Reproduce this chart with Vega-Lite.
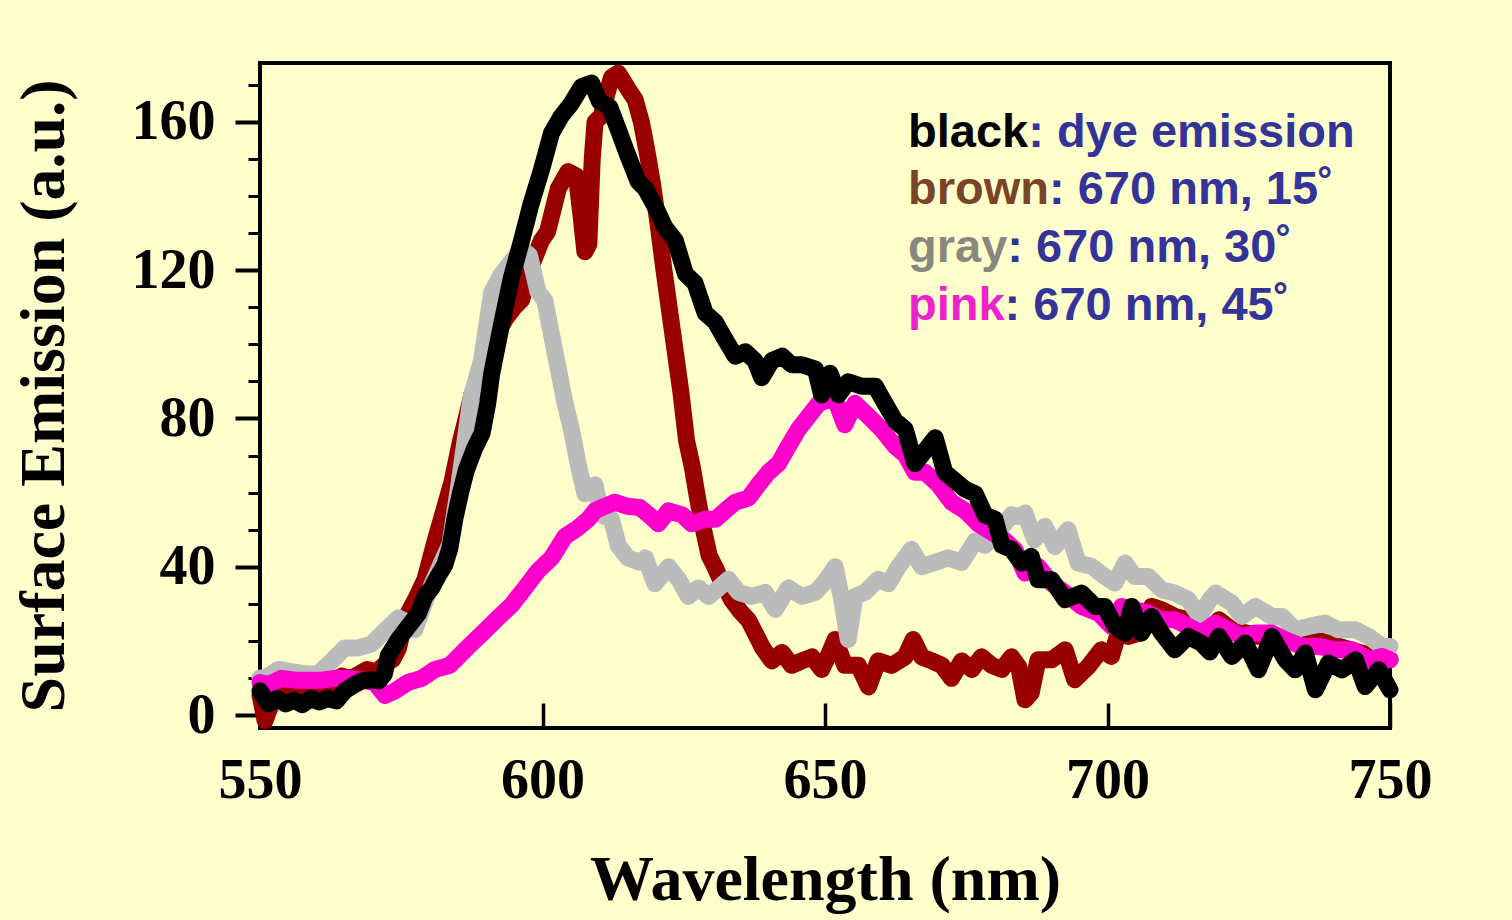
{
  "$schema": "https://vega.github.io/schema/vega-lite/v6.json",
  "width": 1130,
  "height": 665,
  "autosize": {"type": "none"},
  "padding": {"left": 260, "top": 63, "right": 122, "bottom": 192},
  "background": "#FFFFCC",
  "config": {
    "view": {"stroke": "#000000", "strokeWidth": 4},
    "axis": {
      "domain": false,
      "grid": false,
      "tickColor": "#000000",
      "labelColor": "#000000",
      "titleColor": "#000000",
      "labelFont": "Liberation Serif",
      "labelFontWeight": "bold",
      "labelFontSize": 56,
      "labelFlush": false,
      "titleFont": "Liberation Serif",
      "titleFontWeight": "bold",
      "titleFontSize": 64
    }
  },
  "datasets": {
    "curves": [
      {"s":"black","x":550,"y":6.5},{"s":"black","x":551.5,"y":3},{"s":"black","x":553,"y":4.5},{"s":"black","x":554.5,"y":3},{"s":"black","x":556,"y":4},{"s":"black","x":557.5,"y":2.8},{"s":"black","x":559,"y":4.5},{"s":"black","x":560.5,"y":3.5},{"s":"black","x":562,"y":4.5},{"s":"black","x":563.5,"y":3.8},{"s":"black","x":565,"y":6.5},{"s":"black","x":566.5,"y":8},{"s":"black","x":568,"y":9.2},{"s":"black","x":569.5,"y":9.5},{"s":"black","x":571,"y":9.2},{"s":"black","x":572,"y":11},{"s":"black","x":572.7,"y":16},{"s":"black","x":574.5,"y":20.4},{"s":"black","x":576.2,"y":23.8},{"s":"black","x":578,"y":27.3},{"s":"black","x":579.2,"y":32},{"s":"black","x":580.4,"y":34.3},{"s":"black","x":581.6,"y":37.7},{"s":"black","x":582.7,"y":40.5},{"s":"black","x":583.6,"y":45},{"s":"black","x":584.5,"y":53},{"s":"black","x":585.5,"y":60},{"s":"black","x":586.5,"y":66},{"s":"black","x":588,"y":72},{"s":"black","x":589.3,"y":76},{"s":"black","x":590.3,"y":84},{"s":"black","x":591,"y":92},{"s":"black","x":592.7,"y":105},{"s":"black","x":594.5,"y":118},{"s":"black","x":596.3,"y":128},{"s":"black","x":598,"y":138},{"s":"black","x":599.8,"y":147},{"s":"black","x":601.6,"y":157},{"s":"black","x":603.3,"y":161.5},{"s":"black","x":605.1,"y":165},{"s":"black","x":606.9,"y":169.5},{"s":"black","x":608.7,"y":170.5},{"s":"black","x":610.1,"y":165.5},{"s":"black","x":611.9,"y":164},{"s":"black","x":613.4,"y":158},{"s":"black","x":615.1,"y":151},{"s":"black","x":616.9,"y":144},{"s":"black","x":618.2,"y":142},{"s":"black","x":619.9,"y":137.3},{"s":"black","x":621.7,"y":131.5},{"s":"black","x":623.5,"y":128},{"s":"black","x":625.3,"y":119},{"s":"black","x":627,"y":116.5},{"s":"black","x":628.8,"y":108.4},{"s":"black","x":630.6,"y":106},{"s":"black","x":632.3,"y":101.4},{"s":"black","x":634.1,"y":96.8},{"s":"black","x":635.9,"y":98},{"s":"black","x":637.6,"y":95.6},{"s":"black","x":638.8,"y":91},{"s":"black","x":640.6,"y":95.6},{"s":"black","x":642.4,"y":96.8},{"s":"black","x":644.1,"y":94.5},{"s":"black","x":645.9,"y":94.5},{"s":"black","x":648.3,"y":93.3},{"s":"black","x":649.4,"y":86.4},{"s":"black","x":650.9,"y":92.2},{"s":"black","x":652.4,"y":86.4},{"s":"black","x":654.1,"y":89.9},{"s":"black","x":656.5,"y":88.7},{"s":"black","x":658.9,"y":88.7},{"s":"black","x":660.6,"y":84.1},{"s":"black","x":662.4,"y":79.4},{"s":"black","x":664.2,"y":77.1},{"s":"black","x":665.9,"y":67.8},{"s":"black","x":667.7,"y":71.3},{"s":"black","x":669.5,"y":74.8},{"s":"black","x":671.2,"y":65.5},{"s":"black","x":673,"y":63.2},{"s":"black","x":674.8,"y":60.9},{"s":"black","x":676.6,"y":59.7},{"s":"black","x":678.3,"y":54},{"s":"black","x":680.1,"y":52.8},{"s":"black","x":681.3,"y":45.8},{"s":"black","x":683,"y":44.7},{"s":"black","x":684.8,"y":41},{"s":"black","x":686.5,"y":42.8},{"s":"black","x":687.7,"y":36.5},{"s":"black","x":690.1,"y":36.5},{"s":"black","x":692.5,"y":31.1},{"s":"black","x":695.4,"y":32.9},{"s":"black","x":697.8,"y":29.3},{"s":"black","x":699.5,"y":29.3},{"s":"black","x":701.3,"y":23.9},{"s":"black","x":703.1,"y":22.1},{"s":"black","x":704.3,"y":29.3},{"s":"black","x":706,"y":22.1},{"s":"black","x":707.8,"y":26.6},{"s":"black","x":709.6,"y":22.1},{"s":"black","x":711.9,"y":17.6},{"s":"black","x":714.3,"y":21.2},{"s":"black","x":716.6,"y":19.4},{"s":"black","x":718.1,"y":17},{"s":"black","x":719.7,"y":21.2},{"s":"black","x":722,"y":15.8},{"s":"black","x":724.4,"y":19.4},{"s":"black","x":726.7,"y":12.2},{"s":"black","x":729.1,"y":21.2},{"s":"black","x":731.5,"y":14.9},{"s":"black","x":733.2,"y":12.2},{"s":"black","x":735,"y":16.7},{"s":"black","x":736.8,"y":6.8},{"s":"black","x":739.1,"y":14},{"s":"black","x":741.5,"y":12.2},{"s":"black","x":743.9,"y":14.9},{"s":"black","x":745.6,"y":7.7},{"s":"black","x":748,"y":12.2},{"s":"black","x":750,"y":6.8},

      {"s":"brown","x":550,"y":5.5},{"s":"brown","x":550.9,"y":-1.5},{"s":"brown","x":552,"y":3},{"s":"brown","x":552.6,"y":6},{"s":"brown","x":554,"y":4.5},{"s":"brown","x":555.5,"y":7},{"s":"brown","x":557,"y":5},{"s":"brown","x":558.5,"y":6.5},{"s":"brown","x":560,"y":6},{"s":"brown","x":561.5,"y":8},{"s":"brown","x":563,"y":9},{"s":"brown","x":564.5,"y":10.5},{"s":"brown","x":566,"y":9.8},{"s":"brown","x":567.5,"y":11},{"s":"brown","x":569,"y":12.3},{"s":"brown","x":570.5,"y":11.5},{"s":"brown","x":572,"y":13.5},{"s":"brown","x":573.5,"y":15},{"s":"brown","x":574.5,"y":18},{"s":"brown","x":575.7,"y":26},{"s":"brown","x":577.4,"y":30.8},{"s":"brown","x":579.2,"y":36.6},{"s":"brown","x":581,"y":47},{"s":"brown","x":582.7,"y":56},{"s":"brown","x":584,"y":63},{"s":"brown","x":585.5,"y":74},{"s":"brown","x":586.5,"y":80},{"s":"brown","x":587.5,"y":86.4},{"s":"brown","x":589,"y":92},{"s":"brown","x":590.5,"y":98},{"s":"brown","x":592,"y":103},{"s":"brown","x":593.5,"y":107},{"s":"brown","x":595,"y":110},{"s":"brown","x":596.3,"y":112},{"s":"brown","x":598,"y":121},{"s":"brown","x":599.8,"y":128},{"s":"brown","x":600.9,"y":130.4},{"s":"brown","x":602.8,"y":142},{"s":"brown","x":604.5,"y":146.6},{"s":"brown","x":606,"y":145.4},{"s":"brown","x":606.8,"y":135},{"s":"brown","x":607.5,"y":125},{"s":"brown","x":608.2,"y":127},{"s":"brown","x":608.8,"y":150},{"s":"brown","x":609.3,"y":160},{"s":"brown","x":610.4,"y":161.6},{"s":"brown","x":611.3,"y":167},{"s":"brown","x":612.2,"y":172},{"s":"brown","x":613.4,"y":173.2},{"s":"brown","x":615.1,"y":169},{"s":"brown","x":616.4,"y":166},{"s":"brown","x":617.5,"y":160},{"s":"brown","x":618.5,"y":152},{"s":"brown","x":619.5,"y":143},{"s":"brown","x":620.5,"y":132},{"s":"brown","x":621.5,"y":120},{"s":"brown","x":622.5,"y":109},{"s":"brown","x":623.5,"y":98},{"s":"brown","x":624.5,"y":87},{"s":"brown","x":625.5,"y":74},{"s":"brown","x":626.5,"y":67},{"s":"brown","x":627.5,"y":58},{"s":"brown","x":628.5,"y":50},{"s":"brown","x":629.5,"y":43},{"s":"brown","x":630.5,"y":40},{"s":"brown","x":631.5,"y":36.5},{"s":"brown","x":632.5,"y":34},{"s":"brown","x":633.5,"y":31},{"s":"brown","x":635,"y":28},{"s":"brown","x":636.5,"y":25.5},{"s":"brown","x":638,"y":21},{"s":"brown","x":639,"y":18},{"s":"brown","x":640.6,"y":14.6},{"s":"brown","x":642.4,"y":16.9},{"s":"brown","x":644.1,"y":13.4},{"s":"brown","x":645.9,"y":14.6},{"s":"brown","x":647.7,"y":15.7},{"s":"brown","x":649.4,"y":12.3},{"s":"brown","x":650.5,"y":15.7},{"s":"brown","x":651.8,"y":20.4},{"s":"brown","x":653.5,"y":13.4},{"s":"brown","x":655.9,"y":13.4},{"s":"brown","x":657.7,"y":7.6},{"s":"brown","x":659.4,"y":14.6},{"s":"brown","x":661.8,"y":13.4},{"s":"brown","x":664.2,"y":15.7},{"s":"brown","x":665.6,"y":20.4},{"s":"brown","x":667.1,"y":15.7},{"s":"brown","x":668.9,"y":14.6},{"s":"brown","x":670.7,"y":13.4},{"s":"brown","x":672.4,"y":9.9},{"s":"brown","x":674.2,"y":14.6},{"s":"brown","x":676,"y":12.3},{"s":"brown","x":677.7,"y":15.7},{"s":"brown","x":679.5,"y":13.4},{"s":"brown","x":681.3,"y":12.3},{"s":"brown","x":683,"y":15.7},{"s":"brown","x":684.3,"y":13},{"s":"brown","x":685.4,"y":4.1},{"s":"brown","x":686.5,"y":6},{"s":"brown","x":687.7,"y":14.9},{"s":"brown","x":690.1,"y":14.9},{"s":"brown","x":692.5,"y":17.6},{"s":"brown","x":694.2,"y":9.5},{"s":"brown","x":696.6,"y":13.1},{"s":"brown","x":698.9,"y":17.6},{"s":"brown","x":700.7,"y":15.8},{"s":"brown","x":701.9,"y":22.1},{"s":"brown","x":703.7,"y":21.2},{"s":"brown","x":705.4,"y":22.1},{"s":"brown","x":707.8,"y":29.3},{"s":"brown","x":709.6,"y":28.4},{"s":"brown","x":711.9,"y":26.6},{"s":"brown","x":714.3,"y":25.7},{"s":"brown","x":716.6,"y":23},{"s":"brown","x":718.1,"y":22.1},{"s":"brown","x":719.7,"y":25.7},{"s":"brown","x":722,"y":23},{"s":"brown","x":725,"y":22},{"s":"brown","x":729,"y":20.3},{"s":"brown","x":733,"y":20.5},{"s":"brown","x":737,"y":20.3},{"s":"brown","x":741,"y":18.5},{"s":"brown","x":745,"y":16.7},{"s":"brown","x":750,"y":15},

      {"s":"gray","x":550,"y":10},{"s":"gray","x":551,"y":10},{"s":"gray","x":553.2,"y":12.3},{"s":"gray","x":555.6,"y":11.7},{"s":"gray","x":558,"y":11.1},{"s":"gray","x":560.3,"y":11.1},{"s":"gray","x":562.7,"y":14.6},{"s":"gray","x":565,"y":18.1},{"s":"gray","x":567.4,"y":18.1},{"s":"gray","x":569.8,"y":19.2},{"s":"gray","x":572.1,"y":22.7},{"s":"gray","x":574.5,"y":26.2},{"s":"gray","x":576,"y":25},{"s":"gray","x":577.4,"y":23},{"s":"gray","x":579.8,"y":33},{"s":"gray","x":582.1,"y":41},{"s":"gray","x":583.6,"y":46},{"s":"gray","x":585.1,"y":61},{"s":"gray","x":587.4,"y":86},{"s":"gray","x":589.2,"y":95.6},{"s":"gray","x":591,"y":114},{"s":"gray","x":592.7,"y":118.8},{"s":"gray","x":594.5,"y":122.3},{"s":"gray","x":596.3,"y":125.7},{"s":"gray","x":597.7,"y":124},{"s":"gray","x":599.2,"y":114.2},{"s":"gray","x":600.4,"y":111.9},{"s":"gray","x":601.6,"y":102.6},{"s":"gray","x":602.8,"y":93.3},{"s":"gray","x":604,"y":84.1},{"s":"gray","x":605.1,"y":77.1},{"s":"gray","x":606.3,"y":67.8},{"s":"gray","x":607.5,"y":59.7},{"s":"gray","x":609.3,"y":62.1},{"s":"gray","x":610.4,"y":54},{"s":"gray","x":612.2,"y":52.8},{"s":"gray","x":613.4,"y":45.8},{"s":"gray","x":615.1,"y":42.4},{"s":"gray","x":617.2,"y":41.2},{"s":"gray","x":618.2,"y":42.4},{"s":"gray","x":619.9,"y":35.4},{"s":"gray","x":622.3,"y":40},{"s":"gray","x":624.1,"y":36.6},{"s":"gray","x":625.8,"y":32},{"s":"gray","x":627.6,"y":34.3},{"s":"gray","x":629.4,"y":32},{"s":"gray","x":631.2,"y":34.3},{"s":"gray","x":632.9,"y":36.6},{"s":"gray","x":634.7,"y":33.1},{"s":"gray","x":637,"y":32},{"s":"gray","x":639.4,"y":33.1},{"s":"gray","x":641.2,"y":28.5},{"s":"gray","x":643.5,"y":34.3},{"s":"gray","x":645.9,"y":32},{"s":"gray","x":648.3,"y":33.1},{"s":"gray","x":650,"y":36},{"s":"gray","x":651.8,"y":40},{"s":"gray","x":653,"y":30.8},{"s":"gray","x":654.1,"y":20.4},{"s":"gray","x":655.3,"y":32},{"s":"gray","x":657.1,"y":33.1},{"s":"gray","x":659.4,"y":36.6},{"s":"gray","x":661.2,"y":35.4},{"s":"gray","x":663,"y":40},{"s":"gray","x":665.3,"y":44.7},{"s":"gray","x":667.1,"y":40},{"s":"gray","x":669.5,"y":41.2},{"s":"gray","x":671.8,"y":42.4},{"s":"gray","x":674.2,"y":41.2},{"s":"gray","x":676.6,"y":47},{"s":"gray","x":678.3,"y":45.8},{"s":"gray","x":680.7,"y":49.3},{"s":"gray","x":683,"y":54},{"s":"gray","x":684.5,"y":53.5},{"s":"gray","x":685.4,"y":54.5},{"s":"gray","x":687.1,"y":47.3},{"s":"gray","x":688.9,"y":50.9},{"s":"gray","x":690.7,"y":45.5},{"s":"gray","x":693,"y":50},{"s":"gray","x":694.8,"y":41},{"s":"gray","x":697.2,"y":40.1},{"s":"gray","x":699.5,"y":37.4},{"s":"gray","x":701.3,"y":35.6},{"s":"gray","x":703.1,"y":41},{"s":"gray","x":704.8,"y":37.4},{"s":"gray","x":707.2,"y":37.4},{"s":"gray","x":709.6,"y":33.8},{"s":"gray","x":711.9,"y":32.9},{"s":"gray","x":714.3,"y":31.1},{"s":"gray","x":716.3,"y":26.6},{"s":"gray","x":718.1,"y":31.1},{"s":"gray","x":719.1,"y":32.9},{"s":"gray","x":722,"y":30.2},{"s":"gray","x":723.8,"y":26.6},{"s":"gray","x":726.2,"y":29.3},{"s":"gray","x":729.1,"y":26.6},{"s":"gray","x":730.9,"y":26.6},{"s":"gray","x":733.2,"y":23},{"s":"gray","x":735.6,"y":23.9},{"s":"gray","x":738.5,"y":24.8},{"s":"gray","x":740.9,"y":23},{"s":"gray","x":743.9,"y":23},{"s":"gray","x":746.2,"y":21.2},{"s":"gray","x":748.6,"y":18.5},{"s":"gray","x":750,"y":18.5},

      {"s":"pink","x":550,"y":8.8},{"s":"pink","x":551.5,"y":8.2},{"s":"pink","x":553.8,"y":9.9},{"s":"pink","x":556.2,"y":9.4},{"s":"pink","x":558.5,"y":9.4},{"s":"pink","x":560.9,"y":9.4},{"s":"pink","x":563.3,"y":9.9},{"s":"pink","x":565.6,"y":9.9},{"s":"pink","x":568,"y":9.4},{"s":"pink","x":570.3,"y":8.8},{"s":"pink","x":572.1,"y":5.3},{"s":"pink","x":573.9,"y":6.5},{"s":"pink","x":576.2,"y":8.8},{"s":"pink","x":578.6,"y":9.9},{"s":"pink","x":581,"y":12.3},{"s":"pink","x":583.6,"y":13.4},{"s":"pink","x":585.1,"y":15.7},{"s":"pink","x":587.4,"y":19.2},{"s":"pink","x":589.8,"y":22.7},{"s":"pink","x":592.1,"y":26.2},{"s":"pink","x":594.5,"y":29.6},{"s":"pink","x":596.9,"y":34.3},{"s":"pink","x":599.2,"y":38.9},{"s":"pink","x":601.6,"y":42.4},{"s":"pink","x":604,"y":48.2},{"s":"pink","x":606.3,"y":50.5},{"s":"pink","x":608.1,"y":52.8},{"s":"pink","x":609.3,"y":55.1},{"s":"pink","x":611,"y":56.3},{"s":"pink","x":612.8,"y":57.4},{"s":"pink","x":615.1,"y":56.3},{"s":"pink","x":617.2,"y":56},{"s":"pink","x":618.8,"y":54},{"s":"pink","x":620.5,"y":51.6},{"s":"pink","x":622.3,"y":55.1},{"s":"pink","x":624.7,"y":54},{"s":"pink","x":626.4,"y":51.6},{"s":"pink","x":628.8,"y":52.8},{"s":"pink","x":630.6,"y":52.8},{"s":"pink","x":632.3,"y":55.1},{"s":"pink","x":634.1,"y":57.4},{"s":"pink","x":636.5,"y":58.6},{"s":"pink","x":638.2,"y":62.1},{"s":"pink","x":640,"y":65.5},{"s":"pink","x":641.8,"y":67.9},{"s":"pink","x":643.5,"y":72.5},{"s":"pink","x":645.3,"y":77.1},{"s":"pink","x":647.1,"y":80.6},{"s":"pink","x":648.9,"y":84.1},{"s":"pink","x":650.9,"y":85.2},{"s":"pink","x":651.8,"y":85.2},{"s":"pink","x":653.5,"y":78.3},{"s":"pink","x":655.3,"y":84.1},{"s":"pink","x":657.7,"y":80.6},{"s":"pink","x":660,"y":77.1},{"s":"pink","x":662.4,"y":72.5},{"s":"pink","x":664.2,"y":70.2},{"s":"pink","x":665.9,"y":65.5},{"s":"pink","x":667.7,"y":65.5},{"s":"pink","x":670.1,"y":62.1},{"s":"pink","x":672.4,"y":57.4},{"s":"pink","x":674.8,"y":55.1},{"s":"pink","x":677.1,"y":51.6},{"s":"pink","x":679.5,"y":49.3},{"s":"pink","x":681.9,"y":47},{"s":"pink","x":683.6,"y":44.6},{"s":"pink","x":685.4,"y":38.3},{"s":"pink","x":687.7,"y":40.1},{"s":"pink","x":690.1,"y":35.6},{"s":"pink","x":692.5,"y":32.9},{"s":"pink","x":695.4,"y":29.3},{"s":"pink","x":698.4,"y":27.5},{"s":"pink","x":700.7,"y":23.9},{"s":"pink","x":702.5,"y":29.3},{"s":"pink","x":704.8,"y":28.4},{"s":"pink","x":707.2,"y":27.5},{"s":"pink","x":709.6,"y":25.7},{"s":"pink","x":711.9,"y":25.7},{"s":"pink","x":714.3,"y":23.9},{"s":"pink","x":716.6,"y":22.1},{"s":"pink","x":719.1,"y":24.8},{"s":"pink","x":721.4,"y":23},{"s":"pink","x":723.8,"y":21.2},{"s":"pink","x":726.2,"y":22.1},{"s":"pink","x":729.1,"y":22.1},{"s":"pink","x":731.5,"y":20.3},{"s":"pink","x":734.4,"y":18.5},{"s":"pink","x":737.4,"y":18.5},{"s":"pink","x":740.3,"y":17.6},{"s":"pink","x":743.3,"y":17.6},{"s":"pink","x":746.2,"y":14.9},{"s":"pink","x":748.6,"y":15.8},{"s":"pink","x":750,"y":14.9}
    ],
    "legend": [
      {"word": "black", "rest": ": dye emission", "wx": 664.69, "rx": 685.96, "ty": 153.3},
      {"word": "brown", "rest": ": 670 nm, 15˚", "wx": 664.69, "rx": 689.65, "ty": 137.9},
      {"word": "gray", "rest": ": 670 nm, 30˚", "wx": 664.69, "rx": 682.26, "ty": 122.2},
      {"word": "pink", "rest": ": 670 nm, 45˚", "wx": 664.69, "rx": 681.79, "ty": 106.6}
    ]
  },
  "data": {"name": "curves"},
  "layer": [
    {
      "transform": [{"filter": "datum.s === 'brown'"}],
      "mark": {"type": "line", "stroke": "#990000", "strokeWidth": 17, "strokeCap": "round", "strokeJoin": "round"},
      "encoding": {
        "x": {"field": "x", "type": "quantitative", "scale": {"domain": [550, 750], "nice": false, "zero": false},
              "axis": {"orient": "bottom", "values": [550, 600, 650, 700, 750], "tickSize": -25, "tickWidth": 3.5, "labelPadding": 50, "title": "Wavelength (nm)", "titlePadding": 40}},
        "y": {"field": "y", "type": "quantitative", "scale": {"domain": [-3.5, 175.9], "nice": false, "zero": false},
              "axis": {"orient": "left", "values": [0, 40, 80, 120, 160], "tickSize": 25, "tickWidth": 4, "labelPadding": 20, "title": "Surface Emission (a.u.)", "titlePadding": 55}},
        "order": {"field": "x", "type": "quantitative"}
      }
    },
    {
      "transform": [{"filter": "datum.s === 'gray'"}],
      "mark": {"type": "line", "stroke": "#BBBBBB", "strokeWidth": 17, "strokeCap": "round", "strokeJoin": "round"},
      "encoding": {
        "x": {"field": "x", "type": "quantitative", "title": "Wavelength (nm)"},
        "y": {"field": "y", "type": "quantitative",
              "axis": {"orient": "left", "values": [10, 20, 30, 50, 60, 70, 90, 100, 110, 130, 140, 150, 170], "tickSize": 12, "tickWidth": 3, "labels": false, "title": null}},
        "order": {"field": "x", "type": "quantitative"}
      }
    },
    {
      "transform": [{"filter": "datum.s === 'pink'"}],
      "mark": {"type": "line", "stroke": "#FF00CC", "strokeWidth": 17, "strokeCap": "round", "strokeJoin": "round"},
      "encoding": {
        "x": {"field": "x", "type": "quantitative", "title": "Wavelength (nm)"},
        "y": {"field": "y", "type": "quantitative", "axis": null},
        "order": {"field": "x", "type": "quantitative"}
      }
    },
    {
      "transform": [{"filter": "datum.s === 'black'"}],
      "mark": {"type": "line", "stroke": "#000000", "strokeWidth": 17, "strokeCap": "round", "strokeJoin": "round"},
      "encoding": {
        "x": {"field": "x", "type": "quantitative", "title": "Wavelength (nm)"},
        "y": {"field": "y", "type": "quantitative", "axis": null},
        "order": {"field": "x", "type": "quantitative"}
      }
    },
    {
      "data": {"name": "legend"},
      "mark": {"type": "text", "font": "Liberation Sans", "fontWeight": "bold", "fontSize": 47, "align": "left", "baseline": "alphabetic"},
      "encoding": {
        "x": {"field": "wx", "type": "quantitative", "title": "Wavelength (nm)"},
        "y": {"field": "ty", "type": "quantitative", "axis": null},
        "text": {"field": "word"},
        "color": {"field": "word", "type": "nominal", "legend": null,
                  "scale": {"domain": ["black", "brown", "gray", "pink"], "range": ["#000000", "#7A4428", "#888880", "#EE22CC"]}}
      }
    },
    {
      "data": {"name": "legend"},
      "mark": {"type": "text", "font": "Liberation Sans", "fontWeight": "bold", "fontSize": 47, "align": "left", "baseline": "alphabetic", "color": "#333399"},
      "encoding": {
        "x": {"field": "rx", "type": "quantitative", "title": "Wavelength (nm)"},
        "y": {"field": "ty", "type": "quantitative", "axis": null},
        "text": {"field": "rest"}
      }
    }
  ],
  "resolve": {"axis": {"y": "independent"}}
}
